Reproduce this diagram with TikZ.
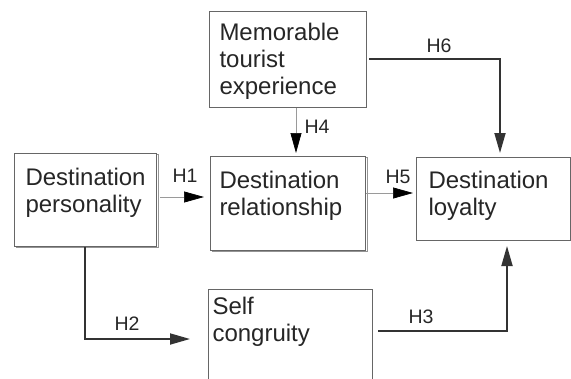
\documentclass[tikz,border=0pt]{standalone}
\usepackage{fontspec}
\setmainfont{Liberation Sans}
\usetikzlibrary{arrows.meta,shadows}
\definecolor{boxgray}{HTML}{666666}
\definecolor{weakgray}{HTML}{9A9A9A}
\definecolor{strongdark}{HTML}{333333}
\newcommand{\boxfont}{\fontsize{24}{27}\selectfont}
\newcommand{\hypfont}{\fontsize{19.5}{22}\selectfont}

\begin{document}
\begin{tikzpicture}[x=1pt,y=-1pt,
  factor/.style={draw=boxgray,line width=1pt,fill=white,anchor=north west,
    align=left,font=\boxfont,text=black!85,text height=18pt},
  shadowed/.style={copy shadow={shadow xshift=1.6pt,shadow yshift=-1.2pt,
    draw=boxgray!70,fill=white}},
  weak/.style={draw=weakgray,line width=0.7pt,
    -{Triangle[length=20pt,width=11pt,color=black]}},
  strong/.style={draw=strongdark,line width=1.8pt,
    -{Triangle[length=20pt,width=11pt,color=strongdark]}},
  hyp/.style={inner sep=0pt,font=\hypfont,text=black!85}]
\useasboundingbox (0,0) rectangle (571,378);
\clip (0,0) rectangle (571,378);

\node[factor,shadowed,inner xsep=11pt,inner ysep=14pt,text width=120pt,text depth=47pt]
  (pers) at (14,153) {Destination\\personality};
\node[factor,inner xsep=10pt,inner ysep=11pt,text width=137pt,text depth=56pt]
  (mte) at (209,11) {Memorable\\tourist\\experience};
\node[factor,shadowed,inner xsep=9pt,inner ysep=14pt,text width=137pt,text depth=48pt]
  (rel) at (210,156) {Destination\\relationship};
\node[factor,inner xsep=12pt,inner ysep=13pt,text width=130pt,text depth=39pt]
  (loy) at (416,157) {Destination\\loyalty};
\node[factor,inner xsep=4pt,inner ysep=7pt,text width=156pt,text depth=79pt]
  (self) at (208,289) {Self\\congruity};

\draw[weak,shorten <=3pt,shorten >=6pt] (pers.east |- 0,197) -- (rel.west |- 0,197);
\draw[weak,shorten >=3pt] (mte.south -| 296,0) -- (rel.north -| 296,0);
\draw[weak,shorten >=3pt] (rel.east |- 0,193) -- (loy.west |- 0,193);
\draw[strong,shorten <=2pt,shorten >=4pt] (mte.east |- 0,59) -| (loy.north -| 500,0);
\draw[strong,shorten >=18pt] (pers.south -| 85,0) |- (self.west |- 0,339);
\draw[strong,shorten <=5pt,shorten >=5pt] (self.east |- 0,331) -| (loy.south -| 507,0);

\node[hyp] (h1) at (185,176) {H1};
\node[hyp] (h2) at (127,324) {H2};
\node[hyp] (h3) at (421,317) {H3};
\node[hyp] (h4) at (317,127) {H4};
\node[hyp] (h5) at (398,177) {H5};
\node[hyp] (h6) at (439,46) {H6};
\end{tikzpicture}
\end{document}
